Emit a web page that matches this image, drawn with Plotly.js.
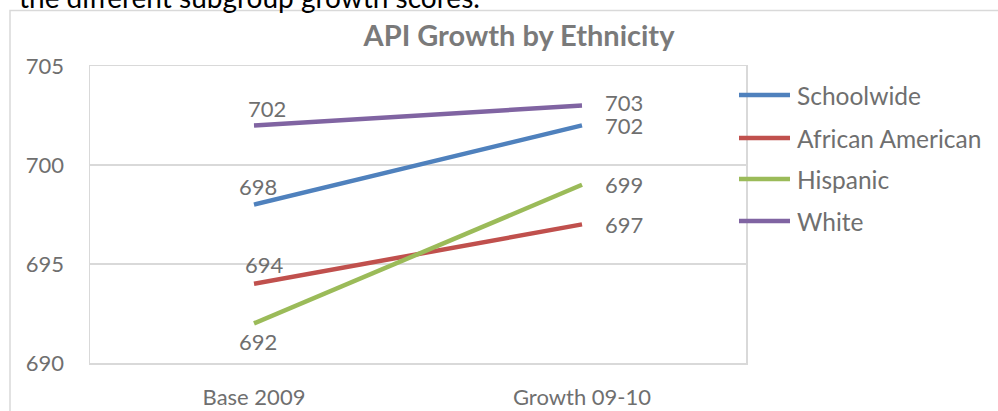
<!DOCTYPE html>
<html>
<head>
<meta charset="utf-8">
<script src="https://cdn.plot.ly/plotly-3.0.1.min.js"></script>
<style>
  html, body { margin: 0; padding: 0; background: #ffffff; }
  #chart { width: 998px; height: 411px; }
</style>
</head>
<body>
<div id="chart"></div>
<script>
// ---- data ----
const categories = ['Base 2009', 'Growth 09-10'];
const seriesNames = ['Schoolwide', 'African American', 'Hispanic', 'White'];
const schoolwide = [698, 702];
const africanAmerican = [694, 697];
const hispanic = [692, 699];
const white = [702, 703];
const yTickValues = [690, 695, 700, 705];
const chartTitle = 'API Growth by Ethnicity';
const pageText = 'the different subgroup growth scores.';

// ---- styles ----
const seriesValues = [schoolwide, africanAmerican, hispanic, white];
const colors = ['#4F81BD', '#C0504D', '#9BBB59', '#8064A2'];
const labelColor = '#6f6f6f';
const gridColor = '#d9d9d9';
const FONT = 'Lato, "Open Sans", sans-serif';
// label offsets [left point, right point] as [xshift, yshift, xanchor]
const labelOffsets = [
  [[4, 18, 'center'], [21, 0, 'left']],
  [[10, 19, 'center'], [21, 0, 'left']],
  [[4, -18, 'center'], [21, 0, 'left']],
  [[13, 17, 'center'], [21, 3, 'left']]
];

// ---- pixel helpers (plot area 90..746 x 66..363) ----
const W = 998, H = 411;
const L = 90, R = 746, T = 66, B = 363;
const px2x = p => (p - L) / (R - L);
const px2y = p => (B - p) / (B - T);

const traces = seriesNames.map((name, i) => ({
  type: 'scatter',
  mode: 'lines',
  name: name,
  x: categories,
  y: seriesValues[i],
  line: { color: colors[i], width: 4.5 },
  showlegend: false,
  hoverinfo: 'x+y+name'
}));

const annotations = [];
seriesNames.forEach((name, i) => {
  seriesValues[i].forEach((v, j) => {
    const off = labelOffsets[i][j];
    annotations.push({
      x: categories[j], y: v, xref: 'x', yref: 'y',
      text: String(v), showarrow: false,
      xanchor: off[2], yanchor: 'middle',
      xshift: off[0], yshift: off[1],
      font: { family: FONT, size: 22, color: labelColor }
    });
  });
});

// manual legend
const legendY = [95, 138, 179, 221];
const shapes = [];
seriesNames.forEach((name, i) => {
  shapes.push({
    type: 'line', xref: 'paper', yref: 'paper',
    x0: px2x(739), x1: px2x(790), y0: px2y(legendY[i]), y1: px2y(legendY[i]),
    line: { color: colors[i], width: 4.5 }
  });
  annotations.push({
    x: px2x(795), y: px2y(legendY[i]), xref: 'paper', yref: 'paper',
    text: name, showarrow: false, xanchor: 'left', yanchor: 'middle',
    font: { family: FONT, size: 24.5, color: labelColor }
  });
});

// chart outer border
shapes.push({
  type: 'rect', xref: 'paper', yref: 'paper', layer: 'below',
  x0: px2x(10), x1: px2x(1200), y0: px2y(600), y1: px2y(10.5),
  line: { color: gridColor, width: 1.5 }, fillcolor: 'rgba(0,0,0,0)'
});

// cut-off document text at top
annotations.push({
  x: px2x(482), y: px2y(-3), xref: 'paper', yref: 'paper',
  text: pageText, showarrow: false, xanchor: 'right', yanchor: 'middle',
  font: { family: FONT, size: 28, color: '#000000' }
});

const layout = {
  width: W, height: H,
  margin: { l: L, r: W - R, t: T, b: H - B, pad: 0 },
  paper_bgcolor: '#ffffff', plot_bgcolor: '#ffffff',
  showlegend: false,
  title: {
    text: '<b>' + chartTitle + '</b>',
    xref: 'paper', x: px2x(519), xanchor: 'center',
    yref: 'container', y: 1 - 36 / H, yanchor: 'middle',
    font: { family: FONT, size: 29, color: '#7a7a7a' }
  },
  xaxis: {
    type: 'category', range: [-0.5, 1.5],
    showgrid: false, zeroline: false,
    showline: true, mirror: true, linecolor: gridColor, linewidth: 1.5,
    ticks: '', ticklabelstandoff: 14,
    tickfont: { family: FONT, size: 22, color: labelColor }
  },
  yaxis: {
    range: [690, 705], tickmode: 'array', tickvals: yTickValues,
    ticktext: yTickValues.map(String),
    showgrid: true, gridcolor: gridColor, gridwidth: 1.5, zeroline: false,
    showline: true, mirror: true, linecolor: gridColor, linewidth: 1.5,
    ticks: '', ticklabelstandoff: 20,
    tickfont: { family: FONT, size: 22, color: labelColor }
  },
  shapes: shapes,
  annotations: annotations
};

Plotly.newPlot('chart', traces, layout, { displayModeBar: false, staticPlot: true });
</script>
</body>
</html>
